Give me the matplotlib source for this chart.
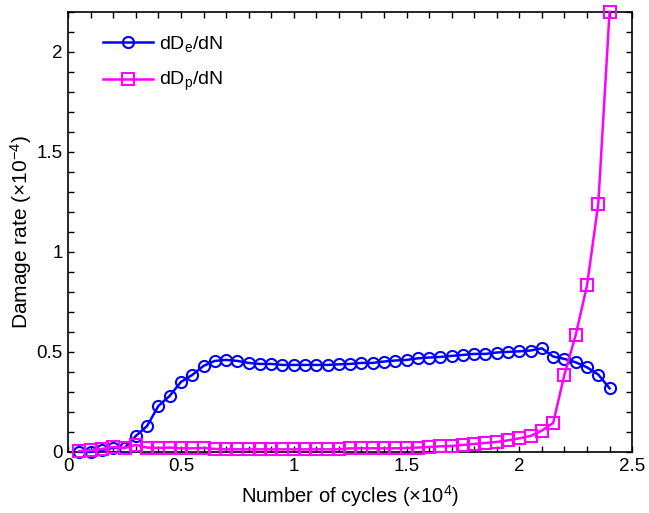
import matplotlib
matplotlib.use('Agg')
import matplotlib.pyplot as plt
from matplotlib.ticker import MultipleLocator, FormatStrFormatter

# damage rate vs number of cycles

cycles = [0.05 * k for k in range(1, 49)]

dDe_dN = [0.0, 0.0, 0.01, 0.02, 0.02, 0.08, 0.13, 0.23, 0.28, 0.35,
          0.385, 0.43, 0.455, 0.46, 0.455, 0.445, 0.44, 0.44, 0.435, 0.435,
          0.435, 0.435, 0.435, 0.438, 0.44, 0.445, 0.445, 0.452, 0.457, 0.46,
          0.468, 0.472, 0.475, 0.48, 0.485, 0.49, 0.49, 0.497, 0.50, 0.503,
          0.507, 0.518, 0.477, 0.465, 0.448, 0.423, 0.387, 0.318]

dDp_dN = [0.005, 0.008, 0.015, 0.025, 0.02, 0.035, 0.022, 0.02, 0.022, 0.018,
          0.018, 0.02, 0.015, 0.013, 0.013, 0.013, 0.013, 0.013, 0.013, 0.013,
          0.013, 0.013, 0.013, 0.013, 0.018, 0.018, 0.018, 0.018, 0.018, 0.02,
          0.022, 0.025, 0.028, 0.03, 0.035, 0.04, 0.045, 0.05, 0.058, 0.068,
          0.08, 0.107, 0.145, 0.387, 0.585, 0.832, 1.24, 2.2]

plt.rcParams.update({'font.family': ['Liberation Sans Narrow', 'Liberation Sans'],
                     'mathtext.default': 'regular',
                     'font.size': 14})

fig = plt.figure(figsize=(6.49, 5.13), dpi=100)
ax = fig.add_axes([0.105, 0.119, 0.869, 0.858])

ax.plot(cycles, dDe_dN, '-o', color='#0000ff', lw=1.8, ms=8,
        mfc='none', mew=1.5, label='dD$_e$/dN', clip_on=False, zorder=3)
ax.plot(cycles, dDp_dN, '-s', color='#ff00ff', lw=1.8, ms=9,
        mfc='none', mew=1.5, label='dD$_p$/dN', clip_on=False, zorder=3)

ax.set_xlim(0, 2.5)
ax.set_ylim(0, 2.2)
ax.xaxis.set_major_locator(MultipleLocator(0.5))
ax.xaxis.set_minor_locator(MultipleLocator(0.1))
ax.yaxis.set_major_locator(MultipleLocator(0.5))
ax.yaxis.set_minor_locator(MultipleLocator(0.1))
ax.xaxis.set_major_formatter(FormatStrFormatter('%g'))
ax.yaxis.set_major_formatter(FormatStrFormatter('%g'))
ax.tick_params(which='both', direction='in', top=True, right=True,
               length=4, width=1, labelsize=13.5, pad=4)
for s in ax.spines.values():
    s.set_linewidth(1.2)

ax.set_xlabel('Number of cycles (×10$^4$)', fontsize=14.5, labelpad=6)
ax.set_ylabel('Damage rate (×10$^{-4}$)', fontsize=15, labelpad=2)

ax.legend(loc='upper left', frameon=False, handlelength=2.6,
          handletextpad=0.3, labelspacing=0.85, fontsize=14,
          bbox_to_anchor=(0.03, 0.99))

plt.savefig('out.png', dpi=100)
plt.close()
